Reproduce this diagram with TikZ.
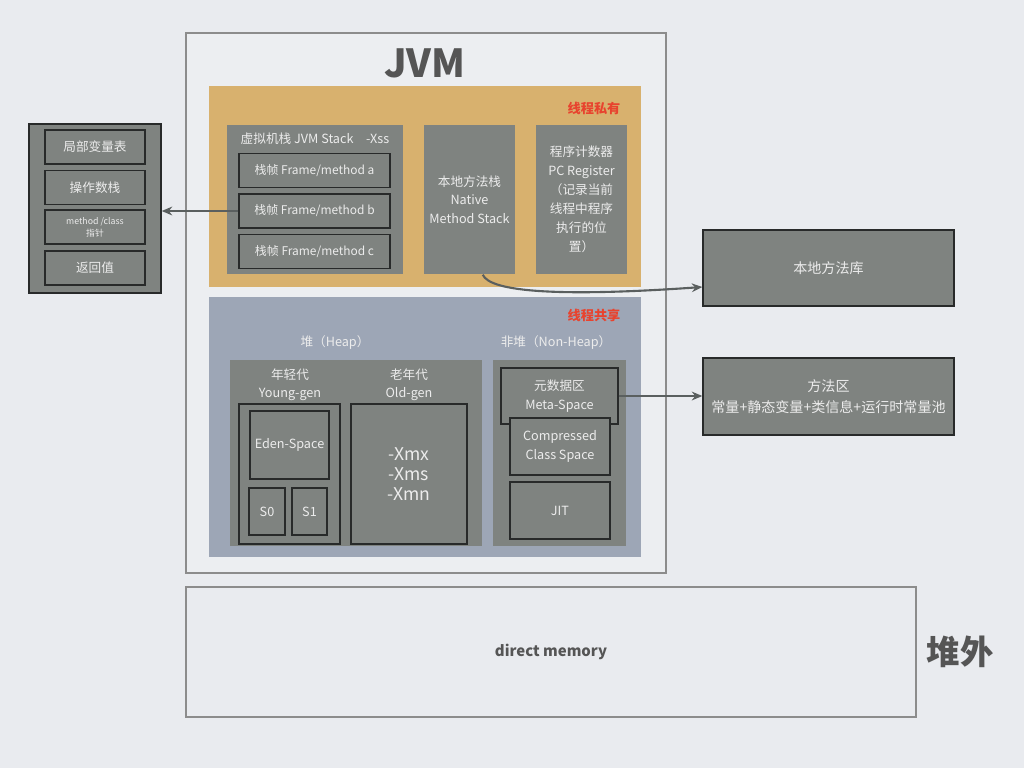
\documentclass[tikz,border=0pt]{standalone}
\usepackage{fontspec}
\setmainfont{Noto Sans CJK SC}
\usetikzlibrary{arrows.meta}
\definecolor{bgc}{RGB}{233,235,239}
\definecolor{jvmbg}{RGB}{236,238,241}
\definecolor{framec}{RGB}{140,140,140}
\definecolor{privc}{RGB}{216,177,110}
\definecolor{sharec}{RGB}{157,166,182}
\definecolor{cellgray}{RGB}{127,131,128}
\definecolor{edge}{RGB}{40,42,42}
\definecolor{lite}{RGB}{236,236,236}
\definecolor{tagred}{RGB}{232,67,46}
\definecolor{dark}{RGB}{85,85,85}
\definecolor{linkc}{RGB}{90,95,95}

\begin{document}
\begin{tikzpicture}[x=0.02cm,y=-0.02cm,
>={Stealth[length=6pt,width=5pt]},
area/.style={rectangle,inner sep=0pt,draw=none},
cell/.style={rectangle,inner sep=0pt,draw=edge,fill=cellgray,line width=0.8pt,text=lite,align=center,font=\fontsize{7.2}{10.5}\selectfont},
txt/.style={inner sep=0pt,text=lite,align=center,font=\fontsize{7.2}{10}\selectfont},
tag/.style={inner sep=0pt,text=tagred,font=\bfseries\fontsize{7.5}{9}\selectfont},
link/.style={draw=linkc,line width=1.2pt}]
\fill[bgc] (0,0) rectangle (1024,768);
\useasboundingbox (0,0) rectangle (1024,768);

% JVM
\node[area,draw=framec,fill=jvmbg,line width=1pt,minimum width=9.6cm,minimum height=10.8cm] (jvm) at (426,303) {};
\node[inner sep=0pt,text=dark,font=\bfseries\fontsize{22}{22}\selectfont] (jvmtitle) at (425,63) {JVM};

% thread private
\node[area,fill=privc,minimum width=8.64cm,minimum height=4.02cm] (private) at (425,186.5) {};
\node[tag] (privtag) at (594,108) {线程私有};
\node[area,fill=cellgray,minimum width=3.52cm,minimum height=2.98cm] (jstack) at (315,199.5) {};
\node[txt] (jstacklbl) at (315,139) {虚拟机栈 JVM Stack\quad -Xss};
\node[cell,minimum width=3.02cm,minimum height=0.68cm,font=\fontsize{6.8}{9}\selectfont] (fa) at (314.5,170.5) {栈帧 Frame/method a};
\node[cell,minimum width=3.02cm,minimum height=0.68cm,font=\fontsize{6.8}{9}\selectfont] (fb) at (314.5,211) {栈帧 Frame/method b};
\node[cell,minimum width=3.02cm,minimum height=0.68cm,font=\fontsize{6.8}{9}\selectfont] (fc) at (314.5,251.5) {栈帧 Frame/method c};
\node[cell,draw=none,minimum width=1.82cm,minimum height=2.98cm] (native) at (469.5,199.5) {本地方法栈\\Native\\Method Stack};
\node[cell,draw=none,minimum width=1.82cm,minimum height=2.98cm,font=\fontsize{7.2}{10.8}\selectfont] (pc) at (581.5,199.5) {程序计数器\\PC Register\\（记录当前\\线程中程序\\执行的位\\置）};

% thread shared
\node[area,fill=sharec,minimum width=8.64cm,minimum height=5.2cm] (shared) at (425,427) {};
\node[tag] (sharetag) at (594,315) {线程共享};
\node[txt] (heaplbl) at (335,343) {堆（Heap）};
\node[txt] (nheaplbl) at (556,343) {非堆（Non-Heap）};
\node[area,fill=cellgray,minimum width=5.04cm,minimum height=3.72cm] (heap) at (356,453) {};
\node[txt] (younglbl) at (290,385) {年轻代\\Young-gen};
\node[txt] (oldlbl) at (409,385) {老年代\\Old-gen};
\node[cell,minimum width=2.02cm,minimum height=2.8cm] (young) at (289.5,474) {};
\node[cell,minimum width=1.58cm,minimum height=1.36cm] (eden) at (289.5,445) {Eden-Space};
\node[cell,minimum width=0.72cm,minimum height=0.94cm] (s0) at (267,511.5) {S0};
\node[cell,minimum width=0.7cm,minimum height=0.94cm] (s1) at (309.5,511.5) {S1};
\node[cell,minimum width=2.32cm,minimum height=2.8cm,font=\fontsize{10}{11.5}\selectfont] (old) at (409,474) {-Xmx\\-Xms\\-Xmn};
\node[area,fill=cellgray,minimum width=2.66cm,minimum height=3.72cm] (nheap) at (559.5,453) {};
\node[cell,minimum width=2.34cm,minimum height=1.12cm] (meta) at (559.5,396) {元数据区\\Meta-Space};
\node[cell,minimum width=2.0cm,minimum height=1.14cm] (ccs) at (560,446.5) {Compressed\\Class Space};
\node[cell,minimum width=2.0cm,minimum height=1.14cm] (jit) at (560,510.5) {JIT};

% stack frame
\node[cell,minimum width=2.64cm,minimum height=3.38cm] (frame) at (95,208.5) {};
\node[cell,minimum width=2.0cm,minimum height=0.68cm] (locals) at (95,147) {局部变量表};
\node[cell,minimum width=2.0cm,minimum height=0.68cm] (opstack) at (95,187.5) {操作数栈};
\node[cell,minimum width=2.0cm,minimum height=0.68cm,font=\fontsize{5}{7}\selectfont] (mptr) at (95,227) {method /class\\指针};
\node[cell,minimum width=2.0cm,minimum height=0.68cm] (ret) at (95,268) {返回值};

% outside boxes
\node[cell,minimum width=5.02cm,minimum height=1.52cm,font=\fontsize{8}{11}\selectfont] (nlib) at (828.5,268) {本地方法库};
\node[cell,minimum width=5.02cm,minimum height=1.54cm,font=\fontsize{8}{12}\selectfont] (marea) at (828.5,396.5) {方法区\\常量+静态变量+类信息+运行时常量池};
\node[area,draw=framec,line width=1pt,minimum width=14.6cm,minimum height=2.6cm,text=dark,font=\bfseries\fontsize{8.5}{10}\selectfont] (direct) at (551,652) {direct memory};
\node[inner sep=0pt,text=dark,font=\bfseries\fontsize{19}{20}\selectfont] (offheap) at (960,652) {堆外};

% links
\draw[link,->] (fb.west) -- (frame.east |- fb.west);
\draw[link,->] (native.-80) .. controls (490,292) and (560,297) .. ([yshift=-0.38cm]nlib.west);
\draw[link,->] (meta.east) -- (marea.west |- meta.east);

\end{tikzpicture}
\end{document}
